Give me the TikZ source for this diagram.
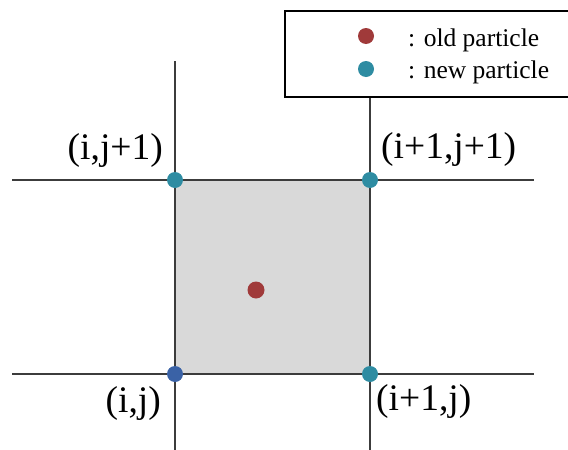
\documentclass[tikz,border=0pt]{standalone}
\usepackage{fontspec}
\setmainfont{Liberation Serif}
\definecolor{oldred}{HTML}{A03A3A}
\definecolor{newteal}{HTML}{2E8CA2}
\definecolor{origblue}{HTML}{3A62A6}
\definecolor{cellgray}{HTML}{D9D9D9}
\definecolor{gridline}{HTML}{3C3C3C}
\begin{document}
\begin{tikzpicture}[x=1pt,y=-1pt,
  gridln/.style={draw=gridline,line width=2.6pt},
  dot/.style={circle,inner sep=0pt,minimum size=16pt},
  lbl/.style={inner sep=0pt,font=\fontsize{37.5}{40}\selectfont},
  leg/.style={inner sep=0pt,anchor=base west,font=\fontsize{25.5}{28}\selectfont}]
\useasboundingbox (0,0) rectangle (568,450);
% cell
\fill[cellgray] (175,180) rectangle (370,374);
% grid lines
\coordinate (v1t) at (175,61);  \coordinate (v1b) at (175,450);
\coordinate (v2t) at (370,61);  \coordinate (v2b) at (370,450);
\coordinate (h1l) at (12,180);  \coordinate (h1r) at (534,180);
\coordinate (h2l) at (12,374);  \coordinate (h2r) at (534,374);
\draw[gridln] (v1t) -- (v1b);
\draw[gridln] (v2t) -- (v2b);
\draw[gridln] (h1l) -- (h1r);
\draw[gridln] (h2l) -- (h2r);
% particles
\node[dot,fill=newteal] (p01) at (175,180) {};
\node[dot,fill=newteal] (p11) at (370,180) {};
\node[dot,fill=origblue] (p00) at (175,374) {};
\node[dot,fill=newteal] (p10) at (370,374) {};
\node[dot,fill=oldred,minimum size=17pt] (old) at (256,290) {};
% labels
\node[lbl,anchor=east] (l01) at (163,150) {(i,j+1)};
\node[lbl,anchor=west] (l11) at (381,149) {(i+1,j+1)};
\node[lbl,anchor=east] (l00) at (161,403) {(i,j)};
\node[lbl,anchor=west] (l10) at (376,401) {(i+1,j)};
% legend
\node[draw=black,line width=1.6pt,fill=white,minimum width=300pt,minimum height=86pt,inner sep=0pt,anchor=north west] (legend) at (284,10) {};
\node[dot,fill=oldred,minimum size=16pt] (lo) at (366,36) {};
\node[dot,fill=newteal,minimum size=16pt] (ln) at (366,69) {};
\node[leg] (to) at (408,46) {: old particle};
\node[leg] (tn) at (408,78) {: new particle};
\end{tikzpicture}
\end{document}
